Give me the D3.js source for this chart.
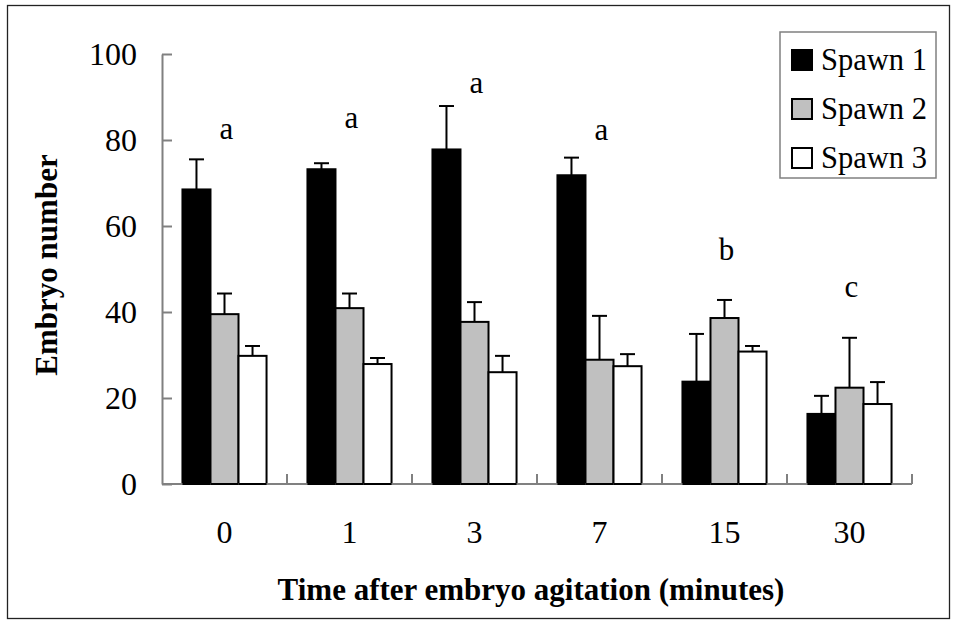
<!DOCTYPE html>
<html>
<head>
<meta charset="utf-8">
<script src="https://cdn.jsdelivr.net/npm/d3@7"></script>
<style>
  html, body { margin: 0; padding: 0; background: #fff; }
  svg { display: block; font-family: "Liberation Serif", "Times New Roman", serif; }
</style>
</head>
<body>
<svg id="chart" width="957" height="624"></svg>
<script>
// ---- data ----
const categories = ["0", "1", "3", "7", "15", "30"];
const seriesNames = ["Spawn 1", "Spawn 2", "Spawn 3"];
const spawn1 = [68.5, 73.2, 77.8, 71.8, 23.8, 16.3];
const spawn1Err = [7.0, 1.4, 10.1, 4.1, 11.1, 4.2];
const spawn2 = [39.5, 40.9, 37.7, 28.9, 38.6, 22.4];
const spawn2Err = [4.8, 3.4, 4.6, 10.2, 4.2, 11.6];
const spawn3 = [29.8, 27.9, 26.0, 27.4, 30.8, 18.6];
const spawn3Err = [2.3, 1.4, 3.8, 2.8, 1.3, 5.1];
const groupLetters = ["a", "a", "a", "a", "b", "c"];
const letterLevels = [80.2, 82.8, 90.9, 80.0, 52.1, 43.5];
const yTicks = [0, 20, 40, 60, 80, 100];
const yTitle = "Embryo number";
const xTitle = "Time after embryo agitation (minutes)";

const seriesValues = [spawn1, spawn2, spawn3];
const seriesErrors = [spawn1Err, spawn2Err, spawn3Err];
const seriesFill = ["#000000", "#c0c0c0", "#ffffff"];

// ---- layout ----
const svg = d3.select("#chart");
const W = 957, H = 624;
const margin = { left: 162, right: 45, top: 54, bottom: 140 };
const plotW = W - margin.left - margin.right;
const plotH = H - margin.top - margin.bottom;
const FONT = "Liberation Serif, Times New Roman, serif";

// outer frame
svg.append("rect")
  .attr("x", 7.5).attr("y", 5.5)
  .attr("width", 942).attr("height", 613)
  .attr("fill", "#fff").attr("stroke", "#222").attr("stroke-width", 1.3);

const g = svg.append("g").attr("transform", `translate(${margin.left},${margin.top})`);

const x0 = d3.scaleBand().domain(categories).range([0, plotW]).padding(0);
const x1 = d3.scaleBand().domain(seriesNames).range([0, x0.bandwidth()])
  .paddingInner(0).paddingOuter(0.73);
const y = d3.scaleLinear().domain([0, 100]).range([plotH, 0]);

// y axis
const yAxis = d3.axisLeft(y).tickValues(yTicks).tickSizeInner(-10).tickSizeOuter(0).tickPadding(25);
const yg = g.append("g").call(yAxis);
yg.selectAll("path, line").attr("stroke", "#808080").attr("stroke-width", 2);
yg.selectAll("text").attr("font-size", 32).attr("fill", "#000").attr("font-family", FONT);

// x axis: labels
const xAxis = d3.axisBottom(x0).tickSize(0).tickPadding(36);
const xg = g.append("g").attr("transform", `translate(0,${plotH})`).call(xAxis);
xg.select("path.domain").remove();
xg.selectAll("text").attr("font-size", 32).attr("fill", "#000").attr("font-family", FONT);

// error bars (upper only)
seriesNames.forEach((s, si) => {
  const vals = seriesValues[si], errs = seriesErrors[si];
  const data = categories.map((c, i) => ({ c, v: vals[i], e: errs[i] }));
  const cx = d => x0(d.c) + x1(s) + x1.bandwidth() / 2;
  const eg = g.append("g");
  eg.selectAll("line.err").data(data).join("line")
    .attr("class", "err")
    .attr("x1", cx).attr("x2", cx)
    .attr("y1", d => y(d.v)).attr("y2", d => y(d.v + d.e))
    .attr("stroke", "#000").attr("stroke-width", 2);
  eg.selectAll("line.cap").data(data).join("line")
    .attr("class", "cap")
    .attr("x1", d => cx(d) - 7.5).attr("x2", d => cx(d) + 7.5)
    .attr("y1", d => y(d.v + d.e)).attr("y2", d => y(d.v + d.e))
    .attr("stroke", "#000").attr("stroke-width", 2);
});

// bars
seriesNames.forEach((s, si) => {
  const vals = seriesValues[si];
  g.append("g").selectAll("rect").data(categories.map((c, i) => ({ c, v: vals[i] }))).join("rect")
    .attr("x", d => x0(d.c) + x1(s))
    .attr("y", d => y(d.v))
    .attr("width", x1.bandwidth())
    .attr("height", d => y(0) - y(d.v))
    .attr("fill", seriesFill[si])
    .attr("stroke", "#000").attr("stroke-width", 2);
});

// x axis line and boundary ticks
const xl = g.append("g").attr("transform", `translate(0,${plotH})`);
xl.append("line").attr("x1", 0).attr("x2", plotW).attr("y1", 0).attr("y2", 0)
  .attr("stroke", "#808080").attr("stroke-width", 2);
xl.selectAll("line.bt").data(categories).join("line")
  .attr("class", "bt")
  .attr("x1", d => x0(d) + x0.bandwidth()).attr("x2", d => x0(d) + x0.bandwidth())
  .attr("y1", 0).attr("y2", -10)
  .attr("stroke", "#808080").attr("stroke-width", 2);
seriesNames.forEach((s) => {
  xl.selectAll(null).data(categories).join("line")
    .attr("x1", d => x0(d) + x1(s)).attr("x2", d => x0(d) + x1(s) + x1.bandwidth())
    .attr("y1", 0).attr("y2", 0).attr("stroke", "#000").attr("stroke-width", 2);
});

// significance letters
g.selectAll("text.sig").data(categories).join("text")
  .attr("class", "sig")
  .attr("x", d => x0(d) + x0.bandwidth() / 2 + 2)
  .attr("y", (d, i) => y(letterLevels[i]))
  .attr("text-anchor", "middle")
  .attr("font-size", 31)
  .text((d, i) => groupLetters[i]);

// axis titles
svg.append("text")
  .attr("x", margin.left + plotW / 2 - 6)
  .attr("y", 600)
  .attr("text-anchor", "middle")
  .attr("font-size", 31).attr("font-weight", "bold")
  .text(xTitle);

svg.append("text")
  .attr("transform", `translate(57,${margin.top + plotH / 2 - 4}) rotate(-90)`)
  .attr("text-anchor", "middle")
  .attr("font-size", 31).attr("font-weight", "bold")
  .text(yTitle);

// legend
const lg = svg.append("g").attr("transform", "translate(780,32)");
lg.append("rect").attr("x", 0).attr("y", 0).attr("width", 156).attr("height", 146)
  .attr("fill", "#fff").attr("stroke", "#808080").attr("stroke-width", 1.5);
seriesNames.forEach((s, si) => {
  const row = lg.append("g").attr("transform", `translate(12,${18 + si * 49})`);
  row.append("rect").attr("x", 0).attr("y", 0).attr("width", 20).attr("height", 20)
    .attr("fill", seriesFill[si]).attr("stroke", "#000").attr("stroke-width", 2);
  row.append("text").attr("x", 29).attr("y", 20)
    .attr("font-size", 30.5).text(s);
});
</script>
</body>
</html>
